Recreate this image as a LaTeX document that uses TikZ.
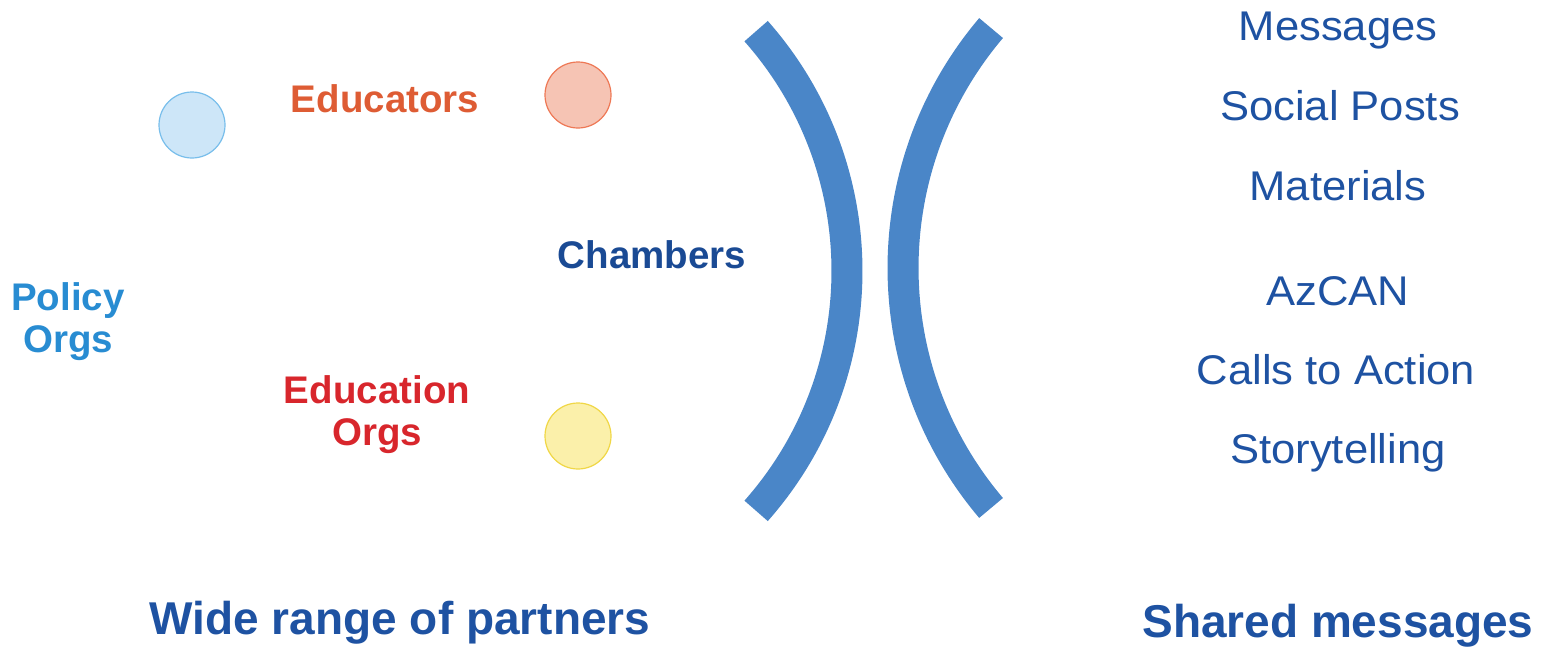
\documentclass[tikz,border=0pt]{standalone}
\usepackage{fontspec}
\setmainfont{Liberation Sans}
\newfontfamily\regfont[FakeStretch=1.05]{Liberation Sans}
\definecolor{darkblue}{RGB}{30,82,162}
\definecolor{chamberblue}{RGB}{26,74,148}
\definecolor{arcblue}{RGB}{74,134,200}
\definecolor{policyblue}{RGB}{40,140,210}
\definecolor{eduorange}{RGB}{222,92,52}
\definecolor{edured}{RGB}{216,38,44}
\definecolor{bluefill}{RGB}{205,230,248}
\definecolor{blueline}{RGB}{120,190,235}
\definecolor{orangefill}{RGB}{246,196,180}
\definecolor{orangeline}{RGB}{238,120,85}
\definecolor{yellowfill}{RGB}{251,240,170}
\definecolor{yellowline}{RGB}{240,215,70}
\tikzset{
  listtext/.style={anchor=base, inner sep=0pt, text=darkblue, font=\regfont\fontsize{41.5}{48}\selectfont},
  labeltext/.style={anchor=base, inner sep=0pt, font=\bfseries\fontsize{38.5}{44}\selectfont},
  titletext/.style={anchor=base, inner sep=0pt, text=darkblue, font=\bfseries\fontsize{46}{52}\selectfont},
  dot/.style={circle, minimum size=66pt, inner sep=0pt, line width=1.2pt},
  bracket/.style={draw=arcblue, line width=31pt, line cap=butt}
}
\begin{document}
\begin{tikzpicture}[x=1pt, y=-1pt]
\useasboundingbox (0,0) rectangle (1542,649);
% circles
\node[dot, fill=bluefill, draw=blueline] (cblue) at (192,125) {};
\node[dot, fill=orangefill, draw=orangeline] (corange) at (578,95) {};
\node[dot, fill=yellowfill, draw=yellowline] (cyellow) at (578,436) {};
% brackets
\draw[bracket] (485,271) ++(-41.5:362) arc[start angle=-41.5, end angle=41.5, radius=362];
\draw[bracket] (1274,268) ++(139.7:371) arc[start angle=139.7, end angle=220.3, radius=371];
% left labels
\node[labeltext, text=policyblue] (policy) at (68,310) {Policy};
\node[labeltext, text=policyblue] (policyorgs) at (68,352) {Orgs};
\node[labeltext, text=eduorange] (educators) at (385,112) {Educators};
\node[labeltext, text=edured] (education) at (377,403) {Education};
\node[labeltext, text=edured] (eduorgs) at (377,445) {Orgs};
\node[labeltext, text=chamberblue] (chambers) at (652,268) {Chambers};
% right list
\node[listtext] (messages) at (1338,40) {Messages};
\node[listtext] (social) at (1340,120) {Social Posts};
\node[listtext] (materials) at (1338,200) {Materials};
\node[listtext] (azcan) at (1338,305) {AzCAN};
\node[listtext] (calls) at (1336,384) {Calls to Action};
\node[listtext] (story) at (1338,463) {Storytelling};
% titles
\node[titletext] (wide) at (400,634) {Wide range of partners};
\node[titletext] (shared) at (1338,637) {Shared messages};
\end{tikzpicture}
\end{document}
